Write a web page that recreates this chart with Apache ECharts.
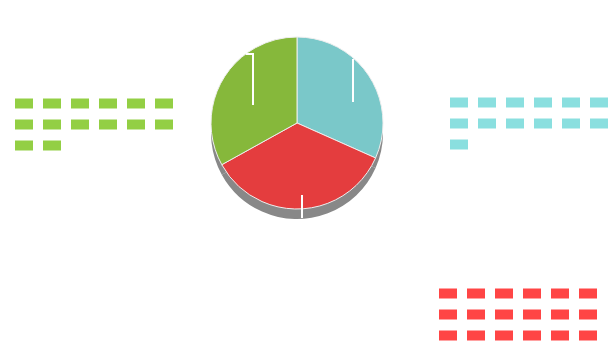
<!DOCTYPE html>
<html>
<head>
<meta charset="utf-8">
<script src="https://cdn.jsdelivr.net/npm/echarts@6/dist/echarts.min.js"></script>
<style>
    html, body { margin: 0; padding: 0; background: #fff; }
    #chart { width: 616px; height: 352px; }
</style>
</head>
<body>
<div id="chart"></div>
<script>
;
(function () {

    // slices, clockwise from 12 o'clock
    var names = ['A', 'B', 'C'];
    var values = [114, 127, 119];
    var sliceColors = ['#7ac8c9', '#e43d3e', '#86b83b'];
    var labelColors = ['#8adfdf', '#ff4545', '#93cf44'];
    var labelBlocks = [13, 18, 14];

    var perRow = 6;

    function blockText(n) {
        var rows = [];
        for (var i = 0; i < n; i += perRow) {
            var row = [];
            for (var j = i; j < Math.min(i + perRow, n); j++) {
                row.push('{b| }');
            }
            rows.push(row.join('{g| }'));
        }
        return rows.join('\n');
    }

    var data = names.map(function (name, i) {
        return {
            name: name,
            value: values[i],
            itemStyle: { color: sliceColors[i] },
            label: {
                formatter: blockText(labelBlocks[i]),
                rich: {
                    b: { width: 18, height: 10, lineHeight: 21, fontSize: 6, backgroundColor: labelColors[i] },
                    g: { width: 10, height: 10, lineHeight: 21, fontSize: 6 }
                }
            }
        };
    });

    // where the labels sit and the white guide lines
    var labelPos = [[450, 92], [439, 283], [15, 93]];
    var guides = [
        [[353, 102], [353, 59]],
        [[302, 195], [302, 218]],
        [[253, 105], [253, 54], [246, 54]]
    ];

    var option = {
        animation: false,
        graphic: guides.map(function (pts) {
            return {
                type: 'polyline',
                z: 100,
                silent: true,
                shape: { points: pts },
                style: { stroke: '#ffffff', lineWidth: 2, fill: null }
            };
        }),
        series: [
            {
                type: 'pie',
                silent: true,
                radius: 86,
                center: [297, 133],
                startAngle: 90,
                label: { show: false },
                labelLine: { show: false },
                itemStyle: { color: '#888888' },
                data: values.map(function (v) { return { value: v }; })
            },
            {
                type: 'pie',
                radius: 86,
                center: [297, 123],
                startAngle: 90,
                clockwise: true,
                itemStyle: { borderColor: '#eeeeee', borderWidth: 1 },
                label: { show: true, position: 'outside' },
                labelLine: { show: false },
                labelLayout: function (params) {
                    var i = params.dataIndex;
                    return {
                        x: labelPos[i][0],
                        y: labelPos[i][1],
                        align: 'left',
                        verticalAlign: 'top'
                    };
                },
                data: data
            }
        ]
    };

    var myChart = echarts.init(document.getElementById('chart'));
    myChart.setOption(option);

})();
</script>
</body>
</html>
